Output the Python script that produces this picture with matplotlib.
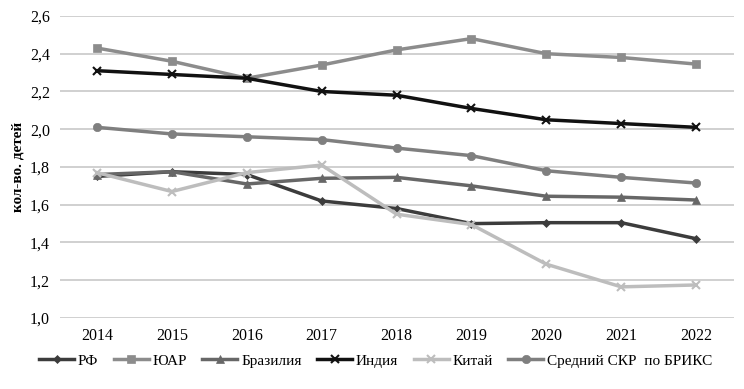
import matplotlib
matplotlib.use("Agg")
import matplotlib.pyplot as plt

years = ["2014", "2015", "2016", "2017", "2018", "2019", "2020", "2021", "2022"]
rf = [1.75, 1.775, 1.76, 1.62, 1.58, 1.50, 1.505, 1.505, 1.42]
uar = [2.43, 2.36, 2.27, 2.34, 2.42, 2.48, 2.40, 2.38, 2.345]
brazil = [1.76, 1.775, 1.71, 1.74, 1.745, 1.70, 1.645, 1.64, 1.625]
india = [2.31, 2.29, 2.27, 2.20, 2.18, 2.11, 2.05, 2.03, 2.01]
china = [1.77, 1.67, 1.77, 1.81, 1.55, 1.495, 1.285, 1.165, 1.175]
brics_avg = [2.01, 1.975, 1.96, 1.945, 1.90, 1.86, 1.78, 1.745, 1.715]
labels = ["РФ", "ЮАР", "Бразилия", "Индия", "Китай", "Средний СКР  по БРИКС"]
yticks = [1.0, 1.2, 1.4, 1.6, 1.8, 2.0, 2.2, 2.4, 2.6]

plt.rcParams['font.family'] = ['Liberation Serif', 'DejaVu Serif']

fig = plt.figure(figsize=(7.44, 3.89), dpi=100)
ax = fig.add_axes([0.08, 0.1825, 0.906, 0.7765])

x = list(range(len(years)))
series = [
    (rf, "#3c3c3c", "D", 4),
    (uar, "#8c8c8c", "s", 6),
    (brazil, "#676767", "^", 6),
    (india, "#111111", "x", 6),
    (china, "#bdbdbd", "x", 6),
    (brics_avg, "#7f7f7f", "o", 6),
]
for (vals, col, mk, ms), lab in zip(series, labels):
    ax.plot(x, vals, color=col, marker=mk, markersize=ms, linewidth=2.5,
            markeredgewidth=1.5 if mk == "x" else 0.5, markeredgecolor=col,
            label=lab, zorder=3)

ax.set_xlim(-0.5, len(years) - 0.5)
ax.set_ylim(1.0, 2.6)
ax.set_xticks(x)
ax.set_xticklabels(years, fontsize=11.5)
ax.set_yticks(yticks)
ax.set_yticklabels([f"{v:.1f}".replace(".", ",") for v in yticks], fontsize=11.5)
ax.tick_params(length=0, pad=7)
ax.grid(axis="y", color="#c8c8c8", linewidth=1.2)
for s in ax.spines.values():
    s.set_visible(False)
ax.set_ylabel("кол-во. детей", fontsize=11, fontweight="bold", labelpad=4)

fig.legend(loc="center", bbox_to_anchor=(0.505, 0.072), ncol=6, frameon=False,
           fontsize=11, handlelength=2.3, columnspacing=1.0, handletextpad=0.25)

fig.savefig("out.png", dpi=100)
